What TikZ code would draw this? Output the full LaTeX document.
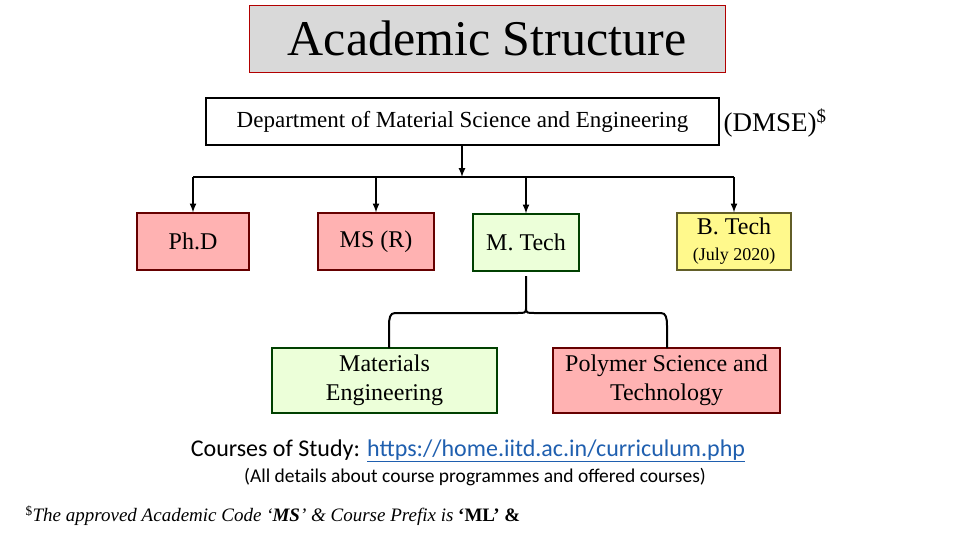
\documentclass[tikz,border=0pt]{standalone}
\usepackage{fontspec}
\setmainfont{Liberation Serif}
\newfontfamily\calfont{Carlito}
\begin{document}
\begin{tikzpicture}[x=1pt,y=-1pt,
 pinkbox/.style={draw=red!40!black,fill=red!30!white,line width=1.2pt},
 greenbox/.style={draw=green!25!black,fill=green!50!yellow!15!white,line width=1.2pt},
 yellowbox/.style={draw=olive!60!black,fill=yellow!45!white,line width=1.2pt},
 conn/.style={line width=2pt},
 arr/.style={conn,-latex}]
\path[use as bounding box] (0,0) rectangle (960,540);
\node[draw=red!70!black,fill=black!15,minimum width=476pt,minimum height=67pt,font=\fontsize{50pt}{54pt}\selectfont] (title) at (487,38.5) {Academic Structure};
\node[draw,line width=2pt,fill=white,minimum width=513pt,minimum height=47pt,font=\fontsize{23pt}{26pt}\selectfont] (dept) at (462.5,121.5) {Department of Material Science and Engineering};
\node[anchor=west,font=\fontsize{27pt}{30pt}\selectfont] (dmse) at (720,123) {(DMSE)\textsuperscript{\$}};
\node[pinkbox,minimum width=112pt,minimum height=57pt,font=\fontsize{24pt}{28pt}\selectfont] (phd) at (193,241.5) {Ph.D};
\node[pinkbox,minimum width=116pt,minimum height=57pt,font=\fontsize{24pt}{28pt}\selectfont] (ms) at (376,241.5) {MS (R)};
\node[greenbox,minimum width=106pt,minimum height=57pt,font=\fontsize{24pt}{28pt}\selectfont] (mt) at (526,242.5) {M. Tech};
\node[yellowbox,minimum width=114pt,minimum height=57pt,align=center,font=\fontsize{24pt}{26pt}\selectfont] (bt) at (734,241.5) {B. Tech\\{\fontsize{18pt}{20pt}\selectfont (July 2020)}};
\node[greenbox,minimum width=225pt,minimum height=65pt,align=center,font=\fontsize{24pt}{29pt}\selectfont] (me) at (384.5,380.5) {Materials\\Engineering};
\node[pinkbox,minimum width=227pt,minimum height=65pt,align=center,font=\fontsize{24pt}{29pt}\selectfont] (ps) at (666.5,380.5) {Polymer Science and\\Technology};
\coordinate (bus) at (462,177);
\coordinate (busL) at (193,177);
\coordinate (busR) at (734,177);
\coordinate (meT) at (389,348);
\coordinate (psT) at (667,348);
\draw[arr] (dept.south -| bus) -- (bus);
\draw[conn] (busL) -- (busR);
\draw[arr] (busL) -- (phd.north);
\draw[arr] (busL -| ms) -- (ms.north);
\draw[arr] (busL -| mt) -- (mt.north);
\draw[arr] (busR) -- (bt.north);
\coordinate (bt0) at (526,276);
\coordinate (btip) at (526,309);
\draw[conn] (bt0) -- (btip) .. controls (526,313) and (524,313) .. (518,313) -- (395,313) .. controls (390,313) and (389,318) .. (389,326) -- (meT);
\draw[conn] (btip) .. controls (526,313) and (528,313) .. (534,313) -- (661,313) .. controls (666,313) and (667,318) .. (667,326) -- (psT);
\node[font=\calfont\fontsize{24pt}{27pt}\selectfont] (c1) at (468,451) {Courses of Study: \textcolor[HTML]{1F5FAF}{\underline{https://home.iitd.ac.in/curriculum.php}}};
\node[font=\calfont\fontsize{19.5pt}{22pt}\selectfont] (c2) at (475,477) {(All details about course programmes and offered courses)};
\node[anchor=west,font=\fontsize{19pt}{22pt}\selectfont] (fn) at (22,516) {\textsuperscript{\$}\textit{The approved Academic Code `\textbf{MS}' \& Course Prefix is }\textbf{`ML' \&}};
\node[font=\fontsize{19pt}{22pt}\selectfont] (fn2) at (290,547) {\textbf{`PT'}};
\end{tikzpicture}
\end{document}
